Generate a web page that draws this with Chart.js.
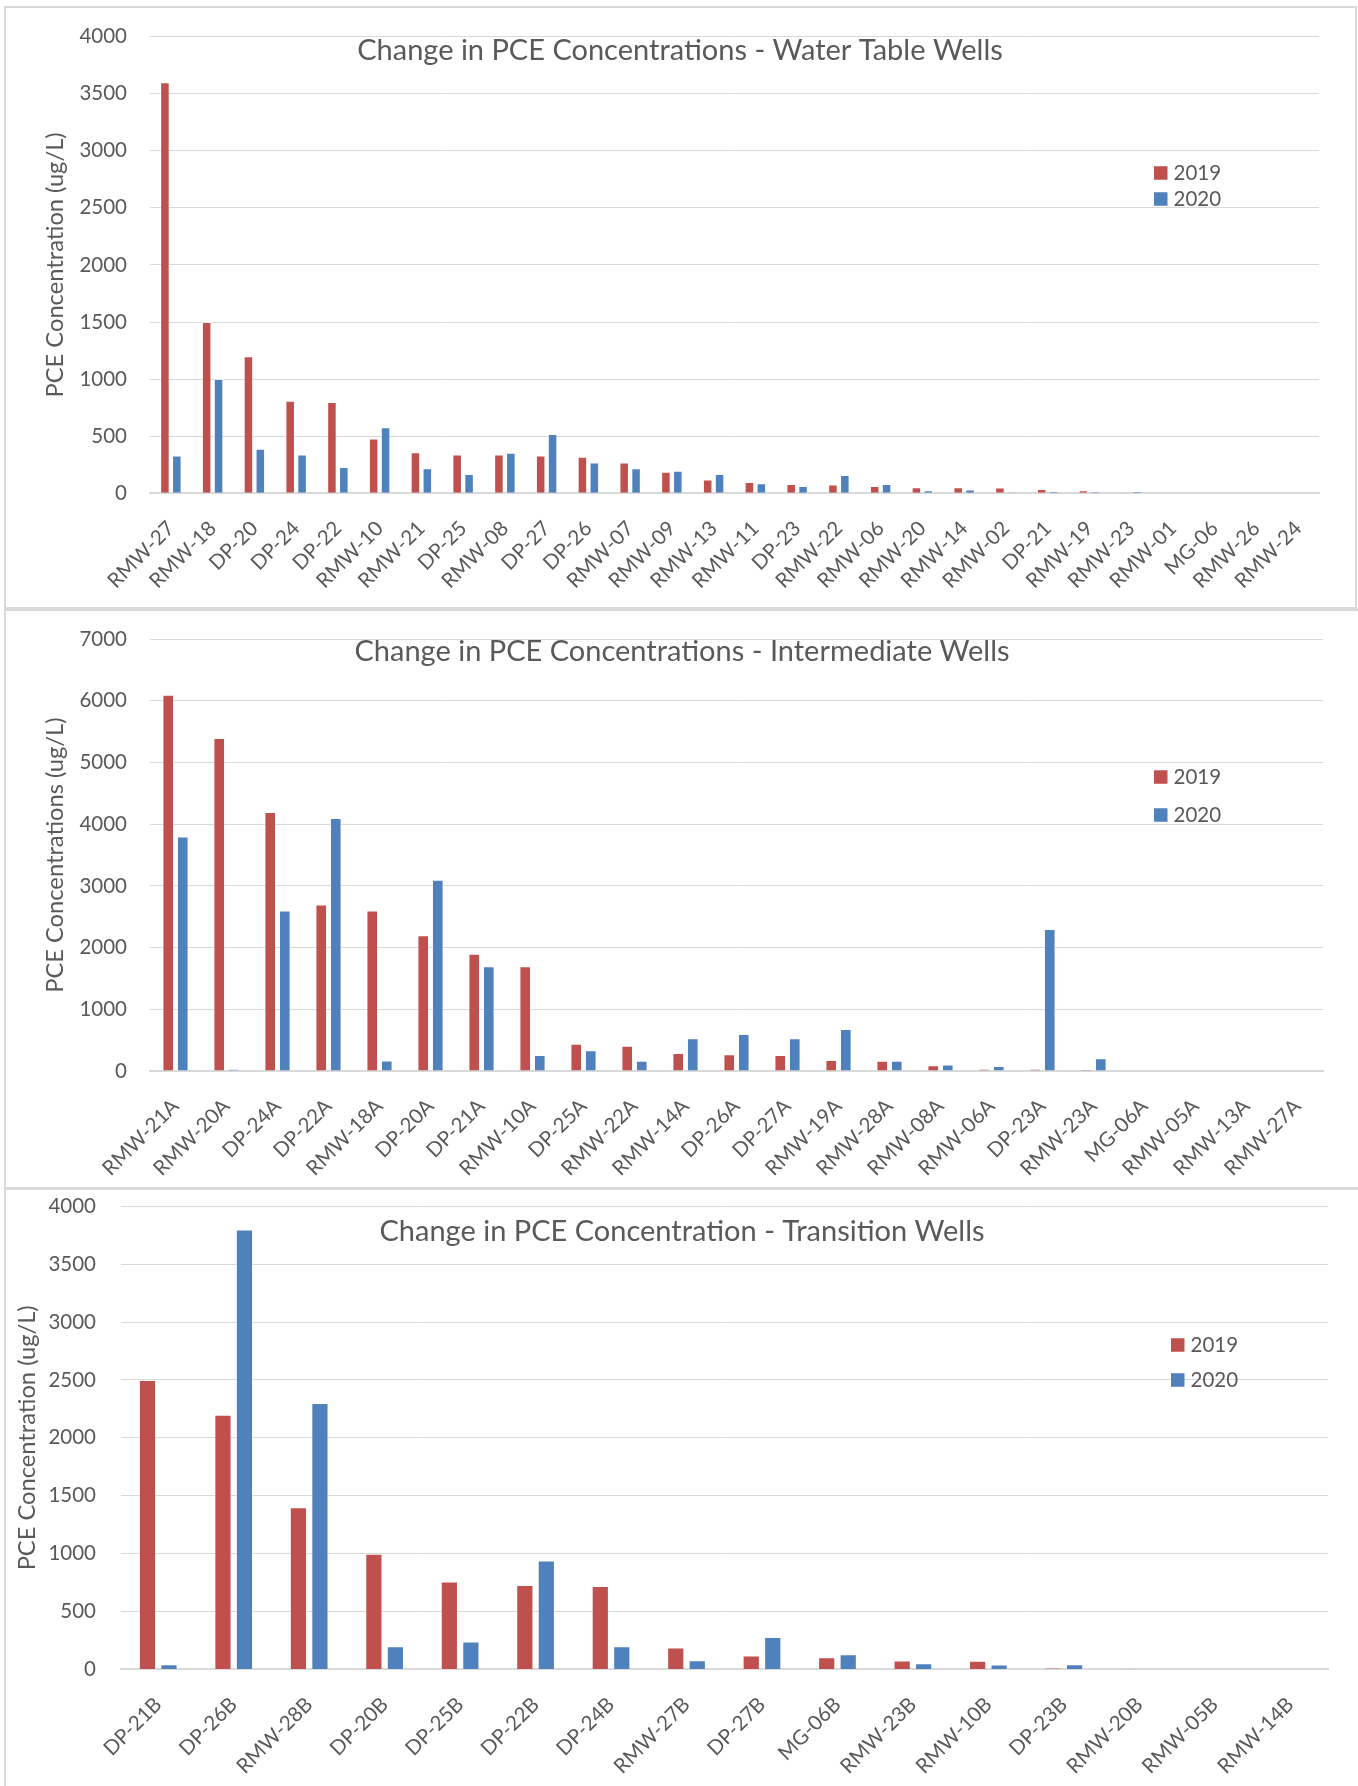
<!DOCTYPE html>
<html>
<head>
<meta charset="utf-8">
<title>Change in PCE Concentrations</title>
<script src="https://cdn.jsdelivr.net/npm/chart.js@4.4.1/dist/chart.umd.min.js"></script>
<style>
  html, body { margin: 0; padding: 0; background: #ffffff; }
  #page { position: relative; width: 1358px; height: 1786px; overflow: hidden; background: #ffffff; }
  .frame { position: absolute; box-sizing: border-box; border: 2px solid #d9d9d9; }
  .panel { position: absolute; left: 0; }
</style>
</head>
<body>
<div id="page">
  <div class="frame" style="left:4px; top:6px; width:1353px; height:603px;"></div>
  <div class="frame" style="left:4px; top:609px; width:1362px; height:580px;"></div>
  <div class="frame" style="left:4px; top:1188px; width:1362px; height:610px;"></div>
  <canvas id="waterTable" class="panel" style="top:0px;" width="1358" height="607"></canvas>
  <canvas id="intermediate" class="panel" style="top:608px;" width="1358" height="580"></canvas>
  <canvas id="transition" class="panel" style="top:1188px;" width="1358" height="598"></canvas>
</div>
<script>
// Sampling years shown in every panel
const yearLabels = ['2019', '2020'];

// Water table wells
const tableWells = ['RMW-27', 'RMW-18', 'DP-20', 'DP-24', 'DP-22', 'RMW-10', 'RMW-21', 'DP-25',
  'RMW-08', 'DP-27', 'DP-26', 'RMW-07', 'RMW-09', 'RMW-13', 'RMW-11', 'DP-23', 'RMW-22', 'RMW-06',
  'RMW-20', 'RMW-14', 'RMW-02', 'DP-21', 'RMW-19', 'RMW-23', 'RMW-01', 'MG-06', 'RMW-26', 'RMW-24'];
const table2019 = [3600, 1500, 1200, 810, 800, 480, 360, 340, 340, 330, 320, 270, 188, 120, 99, 82,
  78, 65, 54, 54, 51, 37, 27, 8, 0, 0, 0, 0];
const table2020 = [330, 1000, 390, 340, 230, 578, 220, 170, 355, 520, 270, 220, 198, 170, 88, 65,
  160, 82, 27, 34, 10, 20, 14, 20, 0, 0, 0, 0];
const tableTicks = { max: 4000, step: 500 };

// Intermediate wells
const intermediateWells = ['RMW-21A', 'RMW-20A', 'DP-24A', 'DP-22A', 'RMW-18A', 'DP-20A', 'DP-21A',
  'RMW-10A', 'DP-25A', 'RMW-22A', 'RMW-14A', 'DP-26A', 'DP-27A', 'RMW-19A', 'RMW-28A', 'RMW-08A',
  'RMW-06A', 'DP-23A', 'RMW-23A', 'MG-06A', 'RMW-05A', 'RMW-13A', 'RMW-27A'];
const intermediate2019 = [6100, 5400, 4200, 2700, 2600, 2200, 1900, 1700, 440, 410, 290, 270, 260,
  180, 165, 92, 31, 31, 24, 10, 0, 0, 0];
const intermediate2020 = [3800, 30, 2600, 4100, 170, 3100, 1700, 260, 335, 165, 530, 600, 530,
  680, 165, 104, 80, 2300, 208, 10, 0, 0, 0];
const intermediateTicks = { max: 7000, step: 1000 };

// Transition wells
const transitionWells = ['DP-21B', 'DP-26B', 'RMW-28B', 'DP-20B', 'DP-25B', 'DP-22B', 'DP-24B',
  'RMW-27B', 'DP-27B', 'MG-06B', 'RMW-23B', 'RMW-10B', 'DP-23B', 'RMW-20B', 'RMW-05B', 'RMW-14B'];
const transition2019 = [2500, 2200, 1400, 1000, 760, 730, 720, 190, 120, 105, 77, 75, 10, 5, 0, 0];
const transition2020 = [45, 3800, 2300, 200, 240, 940, 200, 80, 280, 130, 53, 43, 45, 0, 0, 0];
const transitionTicks = { max: 4000, step: 500 };

const RED = '#c0504d';
const BLUE = '#4f81bd';
const TEXT = '#595959';
const GRID = '#d9d9d9';
const FONT = 'Lato';

// Chart heading drawn over the plot area
const headingPlugin = {
  id: 'heading',
  afterDraw(chart, args, opts) {
    const ctx = chart.ctx;
    ctx.save();
    ctx.font = opts.size + 'px ' + FONT;
    ctx.fillStyle = TEXT;
    ctx.textAlign = 'center';
    ctx.textBaseline = 'alphabetic';
    ctx.fillText(opts.text, opts.x, opts.y);
    ctx.restore();
  }
};

// Series key built from the datasets
const seriesKeyPlugin = {
  id: 'seriesKey',
  afterDraw(chart, args, opts) {
    const ctx = chart.ctx;
    ctx.save();
    chart.data.datasets.forEach((ds, i) => {
      const cy = opts.y + i * opts.gap;
      ctx.fillStyle = ds.backgroundColor;
      ctx.fillRect(opts.x, cy - opts.box / 2, opts.box, opts.box);
      ctx.fillStyle = TEXT;
      ctx.font = opts.size + 'px ' + FONT;
      ctx.textAlign = 'left';
      ctx.textBaseline = 'alphabetic';
      ctx.fillText(ds.label, opts.x + opts.box + opts.space, cy + opts.size * 0.36);
    });
    ctx.restore();
  }
};

function buildPanel(id, wells, first, second, ticks, cfg) {
  const ctx = document.getElementById(id).getContext('2d');
  return new Chart(ctx, {
    type: 'bar',
    data: {
      labels: wells,
      datasets: [
        { label: yearLabels[0], data: first, backgroundColor: RED,
          borderColor: 'rgba(255,255,255,0.45)', borderWidth: 1 },
        { label: yearLabels[1], data: second, backgroundColor: BLUE,
          borderColor: 'rgba(255,255,255,0.45)', borderWidth: 1 }
      ]
    },
    options: {
      responsive: false,
      animation: false,
      events: [],
      categoryPercentage: 0.57,
      barPercentage: 0.8,
      layout: { padding: { left: 0, right: cfg.padRight, top: cfg.padTop, bottom: 0 } },
      scales: {
        x: {
          offset: true,
          grid: { display: false },
          border: { display: true, color: GRID, width: 2 },
          ticks: {
            autoSkip: false, minRotation: 45, maxRotation: 45, padding: cfg.labelPad,
            color: TEXT, font: { family: FONT, size: 20.5 }
          },
          afterFit(scale) { scale.height = cfg.axisHeight; }
        },
        y: {
          min: 0, max: ticks.max,
          grid: { color: GRID, lineWidth: 1, drawTicks: false },
          border: { display: false },
          ticks: {
            stepSize: ticks.step, padding: cfg.tickPad,
            color: TEXT, font: { family: FONT, size: 20.5 },
            callback: (value) => String(value)
          },
          title: {
            display: true, text: cfg.yTitle, color: TEXT,
            font: { family: FONT, size: 23.7 },
            padding: { top: cfg.yTitlePad, bottom: 0 }
          },
          afterFit(scale) {
            scale.width = cfg.axisWidth;
            // keep the label gap from pushing the plot area down
            scale.paddingTop = 12;
            scale.paddingBottom = 12;
          }
        }
      },
      plugins: {
        legend: { display: false },
        tooltip: { enabled: false },
        heading: { text: cfg.heading, x: cfg.headX, y: cfg.headY, size: 29 },
        seriesKey: { x: cfg.keyX, y: cfg.keyY, gap: cfg.keyGap, box: 13.5, space: 6, size: 20.5 }
      }
    },
    plugins: [headingPlugin, seriesKeyPlugin]
  });
}

function drawAll() {
  buildPanel('waterTable', tableWells, table2019, table2020, tableTicks, {
    heading: 'Change in PCE Concentrations - Water Table Wells', headX: 680, headY: 59.5,
    yTitle: 'PCE Concentration (ug/L)', yTitlePad: 41.6,
    padRight: 39, padTop: 36.5, axisWidth: 150, axisHeight: 113.7, tickPad: 23, labelPad: 15,
    keyX: 1154, keyY: 173, keyGap: 26
  });
  buildPanel('intermediate', intermediateWells, intermediate2019, intermediate2020, intermediateTicks, {
    heading: 'Change in PCE Concentrations - Intermediate Wells', headX: 682, headY: 52.5,
    yTitle: 'PCE Concentrations (ug/L)', yTitlePad: 41.6,
    padRight: 35, padTop: 31.2, axisWidth: 150, axisHeight: 117, tickPad: 23, labelPad: 15,
    keyX: 1154, keyY: 169, keyGap: 38
  });
  buildPanel('transition', transitionWells, transition2019, transition2020, transitionTicks, {
    heading: 'Change in PCE Concentration - Transition Wells', headX: 682, headY: 52.5,
    yTitle: 'PCE Concentration (ug/L)', yTitlePad: 13.5,
    padRight: 30, padTop: 18.3, axisWidth: 120.5, axisHeight: 116.6, tickPad: 24.5, labelPad: 15,
    keyX: 1171, keyY: 157, keyGap: 35
  });
}

if (document.fonts && document.fonts.load) {
  Promise.all([document.fonts.load('20px Lato'), document.fonts.load('28px Lato')])
    .then(drawAll, drawAll);
} else {
  drawAll();
}
</script>
</body>
</html>
